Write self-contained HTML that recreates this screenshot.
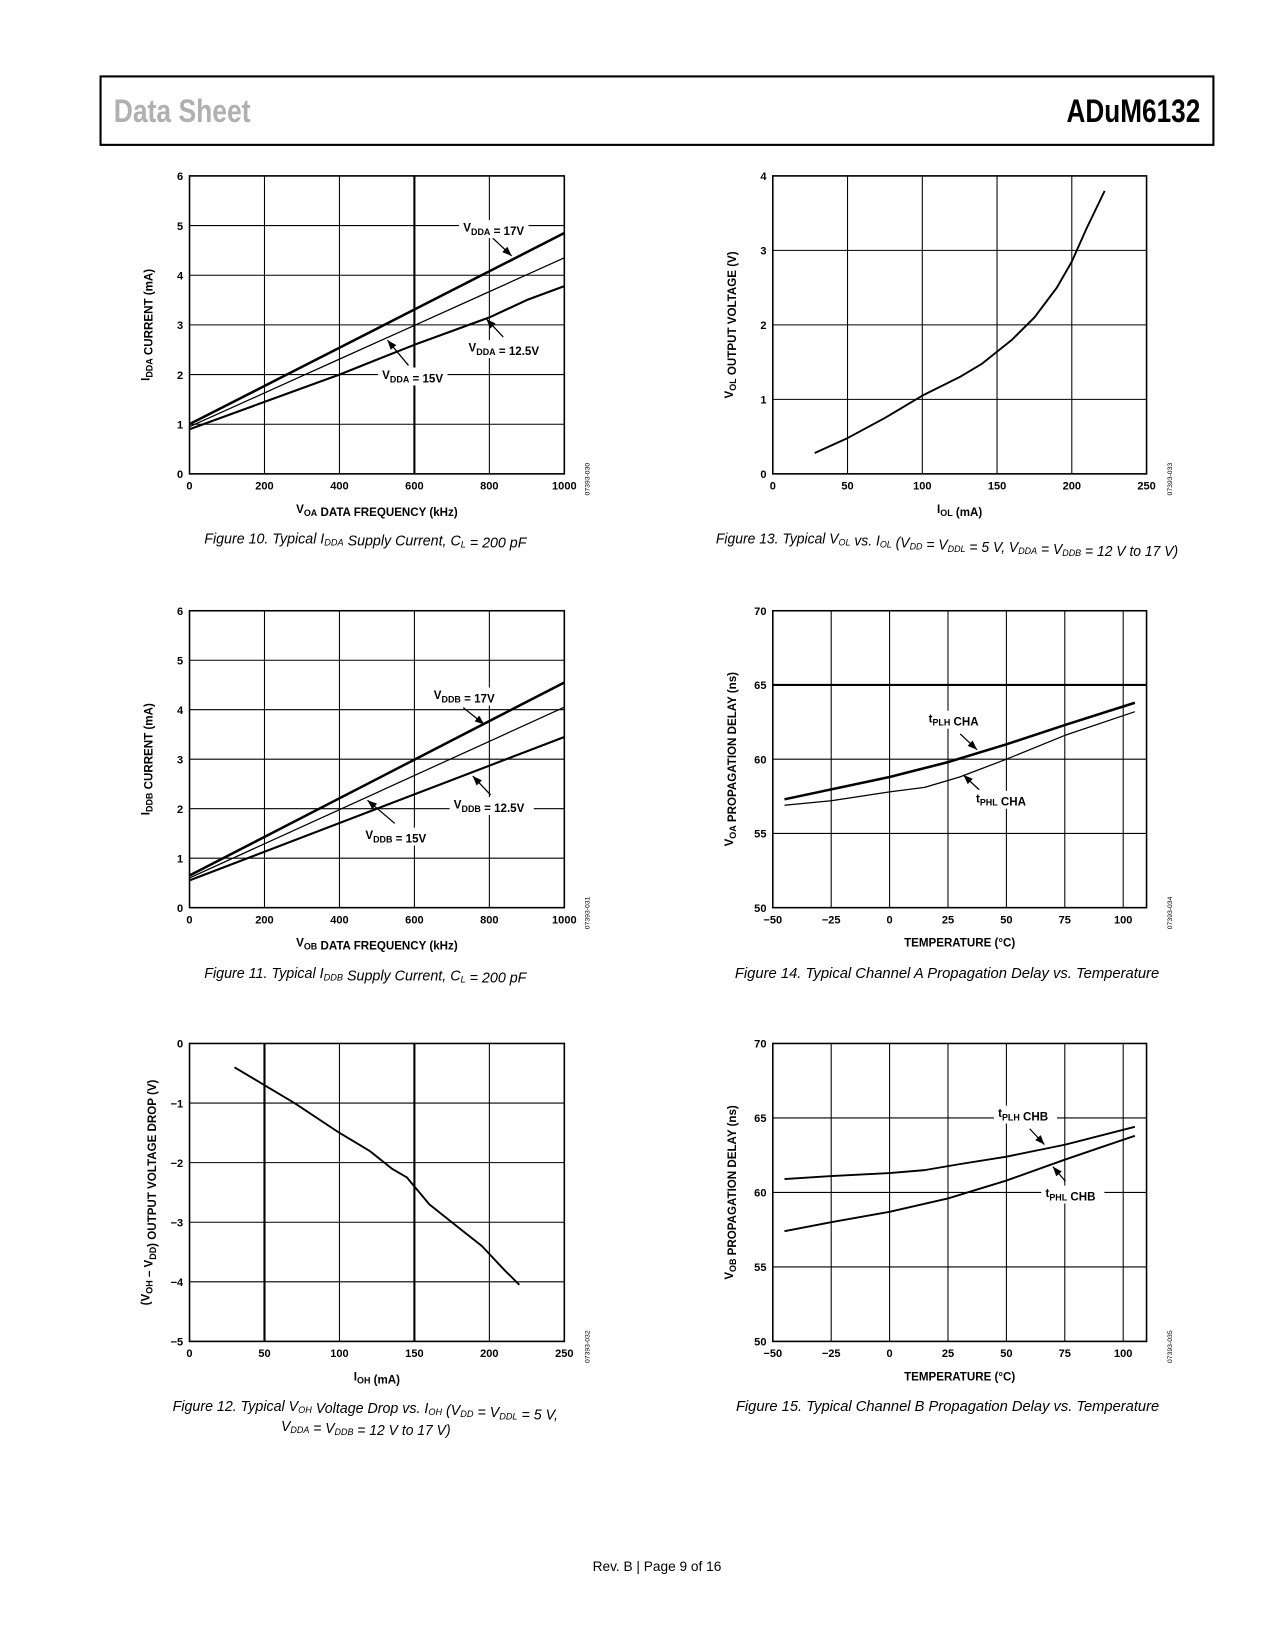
<!DOCTYPE html>
<html><head><meta charset="utf-8"><style>
html,body{margin:0;padding:0;background:#fff}
svg{display:block}
text{font-family:"Liberation Sans",Arial,sans-serif}
.tk{font-size:10.5px;font-weight:bold}
.ti{font-size:11px;font-weight:bold}
.cap{font-size:14px;font-style:italic}
.lb{font-size:11px;font-weight:bold}
</style></head><body>
<svg id="page" width="1275" height="1650" viewBox="0 0 1211 1567" xmlns="http://www.w3.org/2000/svg">
<rect x="95.5" y="72.5" width="1057" height="65" fill="none" stroke="#000" stroke-width="2"/>
<text x="108" y="116" font-size="31" fill="#b0b0b0" font-weight="bold" textLength="130" lengthAdjust="spacingAndGlyphs">Data Sheet</text>
<text x="1013" y="116" font-size="31" font-weight="bold" textLength="127" lengthAdjust="spacingAndGlyphs">ADuM6132</text>
<text x="624" y="1492" font-size="13" text-anchor="middle">Rev. B | Page 9 of 16</text>
<g id="charts"></g>
</svg>
<script>
// ---- data ----
const f10x=[0,200,400,600,800,1000];
const f10_17=[1.0,1.77,2.54,3.31,4.08,4.85];
const f10_15=[0.95,1.63,2.31,2.99,3.67,4.35];
const f10_125x=[0,200,400,500,600,800,900,1000];
const f10_125=[0.9,1.45,2.0,2.3,2.6,3.15,3.5,3.78];
const f13x=[28,50,75,100,125,140,160,175,190,200,210,222];
const f13y=[0.28,0.48,0.75,1.05,1.3,1.48,1.8,2.1,2.5,2.85,3.3,3.8];
const f11x=[0,1000];
const f11_17=[0.65,4.55];
const f11_15=[0.6,4.05];
const f11_125=[0.55,3.45];
const f12x=[30,50,70,100,120,135,145,160,180,195,210,220];
const f12y=[-0.4,-0.7,-1.0,-1.5,-1.8,-2.1,-2.25,-2.7,-3.1,-3.4,-3.8,-4.05];
const f14aX=[-45,0,25,50,75,105];
const f14plh=[57.3,58.8,59.8,61,62.3,63.8];
const f14bX=[-45,-25,0,15,30,50,75,105];
const f14phl=[56.9,57.2,57.8,58.1,58.8,60,61.6,63.2];
const f15aX=[-45,-25,0,15,30,50,75,105];
const f15plh=[60.9,61.1,61.3,61.5,61.9,62.4,63.2,64.4];
const f15bX=[-45,-25,0,25,50,75,90,105];
const f15phl=[57.4,58,58.7,59.6,60.8,62.2,63,63.8];
const freqTicks=[0,200,400,600,800,1000];
const curTicks=[0,1,2,3,4,5,6];
const iolTicks=[0,50,100,150,200,250];
const tempTicks=[-50,-25,0,25,50,75,100];
const delayTicks=[50,55,60,65,70];

const NS="http://www.w3.org/2000/svg";
const root=document.getElementById('charts');
function el(tag,attrs,parent){const e=document.createElementNS(NS,tag);for(const k in attrs)e.setAttribute(k,attrs[k]);(parent||root).appendChild(e);return e;}
function fmt(v){return v<0?'\u2212'+Math.abs(v):String(v);}

function chart(cfg){
  const g=el('g',{});
  
  
  const L=cfg.x0,R=cfg.x1,T=cfg.y0,B=cfg.y1;
  const sx=v=>L+(v-cfg.xmin)/(cfg.xmax-cfg.xmin)*(R-L);
  const sy=v=>B-(v-cfg.ymin)/(cfg.ymax-cfg.ymin)*(B-T);
  cfg.xt.forEach(v=>{
    const thick=(cfg.thickX||[]).includes(v);
    const ln=el('line',{x1:sx(v),x2:sx(v),y1:T,y2:B,stroke:'#000','stroke-width':thick?2:1},g);
    
    
    const t=el('text',{x:sx(v),y:B+15,'text-anchor':'middle',class:'tk'},g);t.textContent=fmt(v);
    
    
  });
  cfg.yt.forEach(v=>{
    const thick=(cfg.thickY||[]).includes(v);
    const ln=el('line',{x1:L,x2:R,y1:sy(v),y2:sy(v),stroke:'#000','stroke-width':thick?2:1},g);
    
    
    const t=el('text',{x:L-6,y:sy(v)+4,'text-anchor':'end',class:'tk'},g);t.textContent=fmt(v);
    
    
  });
  const fr=el('rect',{x:L,y:T,width:R-L,height:B-T,fill:'none',stroke:'#000','stroke-width':1.5},g);
  
  
  (cfg.labels||[]).forEach(lb=>{
    const a=el('line',{x1:lb.ax1,y1:lb.ay1,x2:lb.ax2,y2:lb.ay2,stroke:'#000','stroke-width':1.2},g);
    
    
    const ang=Math.atan2(lb.ay2-lb.ay1,lb.ax2-lb.ax1);
    const p=[[lb.ax2,lb.ay2],[lb.ax2-9*Math.cos(ang)+3.5*Math.sin(ang),lb.ay2-9*Math.sin(ang)-3.5*Math.cos(ang)],[lb.ax2-9*Math.cos(ang)-3.5*Math.sin(ang),lb.ay2-9*Math.sin(ang)+3.5*Math.cos(ang)]];
    const h=el('polygon',{points:p.map(q=>q.join(',')).join(' '),fill:'#000'},g);
    
    
    const bg=el('rect',{x:lb.x-4,y:lb.y-11,width:lb.w,height:17,fill:'#fff'},g);
    
    
  });
  cfg.series.forEach(s=>{
    const d=s.x.map((v,i)=>(i?'L':'M')+sx(v).toFixed(1)+','+sy(s.y[i]).toFixed(1)).join(' ');
    const p=el('path',{d:d,fill:'none',stroke:'#000','stroke-width':s.w,'stroke-linejoin':'round'},g);
    
    
  });
  (cfg.labels||[]).forEach(lb=>{
    const t=el('text',{x:lb.x,y:lb.y,class:'lb'},g);
    t.innerHTML=lb.html;
    
    
  });
  const xt=el('text',{x:(L+R)/2,y:B+37,'text-anchor':'middle',class:'ti'},g);xt.innerHTML=cfg.xtitle;
  
  
  const yx=L-38,yy=(T+B)/2;
  const yt=el('text',{x:yx,y:yy,'text-anchor':'middle',class:'ti',transform:`rotate(-90 ${yx} ${yy})`},g);yt.innerHTML=cfg.ytitle;
  
  
  const cx=R+24,cy=B+5;
  const code=el('text',{x:cx,y:cy,'font-size':6.5,'text-anchor':'middle',transform:`rotate(-90 ${cx} ${cy})`},g);code.textContent=cfg.code;
  
  
  cfg.cap.forEach((c,i)=>{
    const t=el('text',{x:c.x,y:cfg.capY+i*19,class:'cap',textLength:c.w,lengthAdjust:'spacingAndGlyphs'},g);t.innerHTML=c.t;
    
    
  });
}
const sub=s=>`<tspan dy="3" font-size="8.5">${s}</tspan><tspan dy="-3"></tspan>`;
const csub=s=>`<tspan dy="2" font-size="9">${s}</tspan><tspan dy="-2"></tspan>`;

chart({name:'figure-10-chart',x0:180,x1:536,y0:167,y1:450,xmin:0,xmax:1000,ymin:0,ymax:6,xt:freqTicks,yt:curTicks,thickX:[600],
 series:[{name:'line-vdda-17v',x:f10x,y:f10_17,w:2.4},{name:'line-vdda-15v',x:f10x,y:f10_15,w:1.2},{name:'line-vdda-12-5v',x:f10_125x,y:f10_125,w:2}],
 labels:[{x:440,y:220,w:66,html:'V'+sub('DDA')+' = 17V',ax1:468,ay1:226,ax2:486,ay2:243},
 {x:445,y:334,w:78,html:'V'+sub('DDA')+' = 12.5V',ax1:478,ay1:320,ax2:462,ay2:303},
 {x:363,y:360,w:66,html:'V'+sub('DDA')+' = 15V',ax1:388,ay1:347,ax2:368,ay2:323}],
 xtitle:'V'+sub('OA')+' DATA FREQUENCY (kHz)',ytitle:'I'+sub('DDA')+' CURRENT (mA)',code:'07393-030',capY:516,
 cap:[{x:194,w:306,t:'Figure 10. Typical I'+csub('DDA')+' Supply Current, C'+csub('L')+' = 200 pF'}]});

chart({name:'figure-13-chart',x0:734,x1:1089,y0:167,y1:450,xmin:0,xmax:250,ymin:0,ymax:4,xt:iolTicks,yt:[0,1,2,3,4],
 series:[{name:'line-vol',x:f13x,y:f13y,w:1.8}],
 xtitle:'I'+sub('OL')+' (mA)',ytitle:'V'+sub('OL')+' OUTPUT VOLTAGE (V)',code:'07393-033',capY:516,
 cap:[{x:680,w:439,t:'Figure 13. Typical V'+csub('OL')+' vs. I'+csub('OL')+' (V'+csub('DD')+' = V'+csub('DDL')+' = 5 V, V'+csub('DDA')+' = V'+csub('DDB')+' = 12 V to 17 V)'}]});

chart({name:'figure-11-chart',x0:180,x1:536,y0:580,y1:862,xmin:0,xmax:1000,ymin:0,ymax:6,xt:freqTicks,yt:curTicks,
 series:[{name:'line-vddb-17v',x:f11x,y:f11_17,w:2.4},{name:'line-vddb-15v',x:f11x,y:f11_15,w:1.2},{name:'line-vddb-12-5v',x:f11x,y:f11_125,w:2}],
 labels:[{x:412,y:664,w:68,html:'V'+sub('DDB')+' = 17V',ax1:440,ay1:672,ax2:460,ay2:688},
 {x:431,y:768,w:80,html:'V'+sub('DDB')+' = 12.5V',ax1:466,ay1:755,ax2:449,ay2:737},
 {x:347,y:797,w:68,html:'V'+sub('DDB')+' = 15V',ax1:375,ay1:782,ax2:349,ay2:760}],
 xtitle:'V'+sub('OB')+' DATA FREQUENCY (kHz)',ytitle:'I'+sub('DDB')+' CURRENT (mA)',code:'07393-031',capY:929,
 cap:[{x:194,w:306,t:'Figure 11. Typical I'+csub('DDB')+' Supply Current, C'+csub('L')+' = 200 pF'}]});

chart({name:'figure-14-chart',x0:734,x1:1089,y0:580,y1:862,xmin:-50,xmax:110,ymin:50,ymax:70,xt:tempTicks,yt:delayTicks,thickY:[65],
 series:[{name:'line-tplh-cha',x:f14aX,y:f14plh,w:2.4},{name:'line-tphl-cha',x:f14bX,y:f14phl,w:1.2}],
 labels:[{x:882,y:686,w:60,html:'t'+sub('PLH')+' CHA',ax1:912,ay1:697,ax2:928,ay2:712},
 {x:927,y:762,w:60,html:'t'+sub('PHL')+' CHA',ax1:930,ay1:750,ax2:915,ay2:736}],
 xtitle:'TEMPERATURE (°C)',ytitle:'V'+sub('OA')+' PROPAGATION DELAY (ns)',code:'07393-034',capY:929,
 cap:[{x:698,w:403,t:'Figure 14. Typical Channel A Propagation Delay vs. Temperature'}]});

chart({name:'figure-12-chart',x0:180,x1:536,y0:991,y1:1274,xmin:0,xmax:250,ymin:-5,ymax:0,xt:iolTicks,yt:[-5,-4,-3,-2,-1,0],thickX:[50,150],
 series:[{name:'line-voh-drop',x:f12x,y:f12y,w:1.8}],
 xtitle:'I'+sub('OH')+' (mA)',ytitle:'(V'+sub('OH')+' – V'+sub('DD')+') OUTPUT VOLTAGE DROP (V)',code:'07393-032',capY:1340,
 cap:[{x:164,w:366,t:'Figure 12. Typical V'+csub('OH')+' Voltage Drop vs. I'+csub('OH')+' (V'+csub('DD')+' = V'+csub('DDL')+' = 5 V,'},{x:267,w:161,t:'V'+csub('DDA')+' = V'+csub('DDB')+' = 12 V to 17 V)'}]});

chart({name:'figure-15-chart',x0:734,x1:1089,y0:991,y1:1274,xmin:-50,xmax:110,ymin:50,ymax:70,xt:tempTicks,yt:delayTicks,
 series:[{name:'line-tplh-chb',x:f15aX,y:f15plh,w:1.8},{name:'line-tphl-chb',x:f15bX,y:f15phl,w:1.8}],
 labels:[{x:948,y:1061,w:60,html:'t'+sub('PLH')+' CHB',ax1:978,ay1:1072,ax2:992,ay2:1087},
 {x:993,y:1137,w:60,html:'t'+sub('PHL')+' CHB',ax1:1012,ay1:1122,ax2:1000,ay2:1108}],
 xtitle:'TEMPERATURE (°C)',ytitle:'V'+sub('OB')+' PROPAGATION DELAY (ns)',code:'07393-035',capY:1340,
 cap:[{x:699,w:402,t:'Figure 15. Typical Channel B Propagation Delay vs. Temperature'}]});
</script>
</body></html>
